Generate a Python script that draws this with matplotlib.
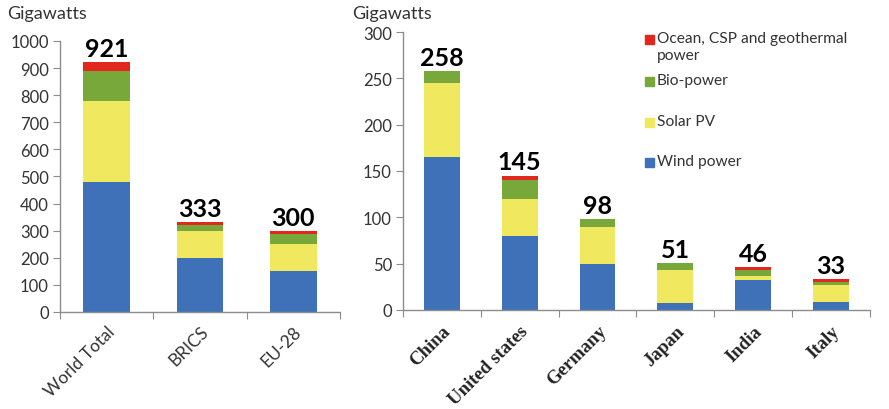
import matplotlib
matplotlib.use("Agg")
import matplotlib.pyplot as plt
from matplotlib.patches import Rectangle
import numpy as np

plt.rcParams['font.family'] = ['Lato', 'DejaVu Sans']

# Installed renewable capacity, gigawatts
groups = ["World Total", "BRICS", "EU-28"]
group_wind = [480, 200, 152]
group_solar = [300, 100, 100]
group_bio = [108, 20, 35]
group_ocean = [33, 13, 13]
group_totals = [921, 333, 300]

countries = ["China", "United states", "Germany", "Japan", "India", "Italy"]
country_wind = [165, 80, 50, 8, 32, 9]
country_solar = [80, 40, 40, 35, 5, 18]
country_bio = [13, 20, 8, 8, 6, 3.5]
country_ocean = [0, 5, 0, 0, 3, 2.5]
country_totals = [258, 145, 98, 51, 46, 33]

series_names = ["Wind power", "Solar PV", "Bio-power", "Ocean, CSP and geothermal\npower"]
colors = ["#3e71b8", "#f0e85e", "#78a83a", "#e2271f"]

text_col = "#333333"
spine_col = "#8c8c8c"

fig = plt.figure(figsize=(8.89, 4.10), dpi=100)
ax1 = fig.add_axes([0.0675, 0.2366, 0.315, 0.661])
ax2 = fig.add_axes([0.4533, 0.2415, 0.5253, 0.678])


def stacked(ax, cats, layers, totals, width, ymax, step, label_pad):
    x = np.arange(len(cats))
    bottom = np.zeros(len(cats))
    for vals, c in zip(layers, colors):
        vals = np.asarray(vals, dtype=float)
        ax.bar(x, vals, width, bottom=bottom, color=c, edgecolor="none", zorder=2)
        bottom += vals
    for xi, t in zip(x, totals):
        ax.text(xi, t + ymax * 0.008, f"{t}", ha="center", va="bottom",
                fontsize=18, fontweight="bold", color="black")
    ax.set_xlim(-0.5, len(cats) - 0.5)
    ax.set_ylim(0, ymax)
    ax.set_yticks(np.arange(0, ymax + 1, step))
    ax.set_xticks(np.arange(-0.5, len(cats), 1.0))
    ax.set_xticklabels([])
    ax.set_xticks(x, minor=True)
    ax.tick_params(axis="x", which="major", length=5, color=spine_col, direction="out")
    ax.tick_params(axis="x", which="minor", length=0, pad=label_pad)
    ax.tick_params(axis="y", length=5, color=spine_col, labelsize=12,
                   labelcolor=text_col, pad=3)
    for s in ("top", "right"):
        ax.spines[s].set_visible(False)
    for s in ("left", "bottom"):
        ax.spines[s].set_color(spine_col)
        ax.spines[s].set_linewidth(1.0)
    return x


stacked(ax1, groups, [group_wind, group_solar, group_bio, group_ocean],
        group_totals, 0.5, 1000, 100, 8)
ax1.set_xticklabels(groups, minor=True, rotation=45, ha="right",
                    rotation_mode="anchor", fontsize=12.5, color=text_col)

stacked(ax2, countries, [country_wind, country_solar, country_bio, country_ocean],
        country_totals, 0.46, 300, 50, 9)
ax2.set_xticklabels(countries, minor=True, rotation=45, ha="right",
                    rotation_mode="anchor", fontsize=13.5, fontweight="bold",
                    family="Liberation Serif", color="#222222")

fig.text(7 / 889, 1 - 14 / 410, "Gigawatts", fontsize=13, color=text_col, va="center")
fig.text(352 / 889, 1 - 14 / 410, "Gigawatts", fontsize=13, color=text_col, va="center")

# Legend, top entry first
legend_rows = [(3, 40), (2, 82), (1, 123), (0, 163)]
for idx, ypx in legend_rows:
    fig.patches.append(Rectangle((645 / 889, 1 - (ypx + 5) / 410), 9 / 889, 9 / 410,
                                 transform=fig.transFigure, color=colors[idx]))
    fig.text(657 / 889, 1 - (ypx - 8) / 410, series_names[idx], fontsize=11.2,
             color=text_col, va="top", linespacing=1.3)

fig.savefig("out.png", dpi=100)
